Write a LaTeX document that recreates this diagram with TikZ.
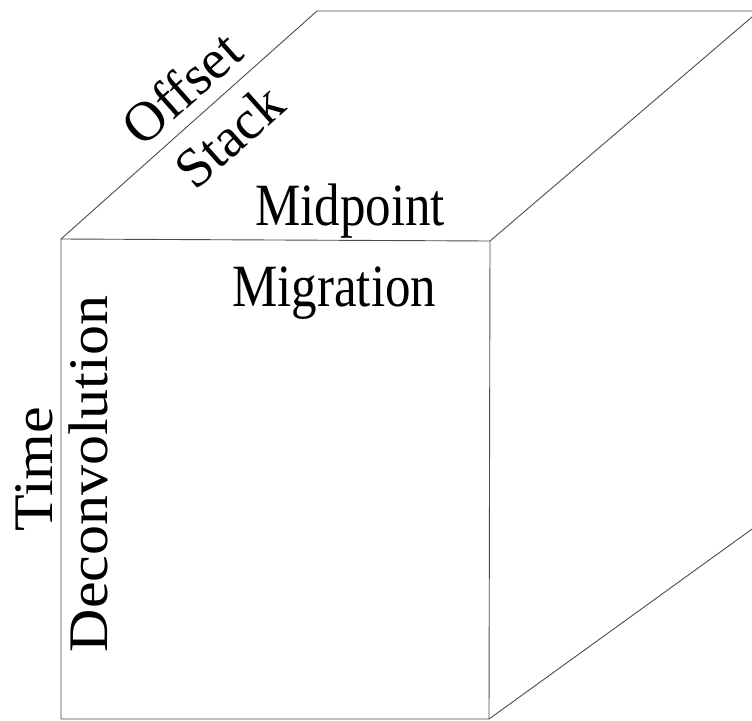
\documentclass[tikz,border=0pt]{standalone}
\usepackage{fontspec}
\setmainfont{Liberation Serif}
\usepackage{graphicx}
\begin{document}
\begin{tikzpicture}[x=1pt,y=-1pt,
  edge/.style={draw=black!70,line width=0.9pt},
  lbl/.style={inner sep=0pt,font=\fontsize{60}{70}\selectfont}]
\useasboundingbox (0,0) rectangle (752,720);
\clip (0,0) rectangle (752,720);
\coordinate (A) at (61,239);
\coordinate (B) at (490,241);
\coordinate (C) at (317,11);
\coordinate (D) at (759,11);
\coordinate (E) at (489,719);
\coordinate (F) at (61,719);
\coordinate (G) at (1000,350);
\draw[edge] (F) -- (A) -- (B) -- (E) -- (F);
\draw[edge] (A) -- (C) -- (D) -- (B);
\draw[edge] (E) -- (G);
% labels
\node[lbl,rotate=41.6] (offset) at (181,88) {\scalebox{0.93}{Offset}};
\node[lbl,rotate=41.6] (stack) at (229,136) {\scalebox{0.93}{Stack}};
\node[lbl,anchor=base west] (midpoint) at (255,225) {\scalebox{0.85}[1]{Midpoint}};
\node[lbl,anchor=base west] (migration) at (232,306) {\scalebox{0.85}[1]{Migration}};
\node[lbl,rotate=90,anchor=base] (time) at (52,469) {\scalebox{1}[0.93]{Time}};
\node[lbl,rotate=90,anchor=base] (decon) at (107,474) {\scalebox{1}[0.93]{Deconvolution}};
\end{tikzpicture}
\end{document}
